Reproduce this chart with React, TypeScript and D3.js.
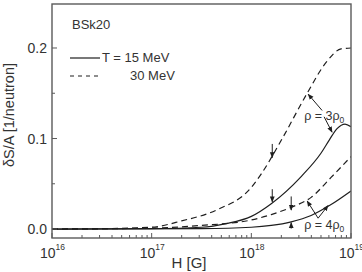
import React from "react";
import * as d3 from "d3";

// Entropy change per neutron vs. magnetic field (BSk20 functional)
// x values are log10(H / G)
const logH_15_3 = [16, 17, 17.5, 17.75, 18, 18.2, 18.5, 18.7, 18.78, 18.86, 18.94, 19];
const dS_15_3 = [0, 0.0005, 0.002, 0.006, 0.014, 0.028, 0.058, 0.084, 0.098, 0.111, 0.116, 0.113];

const logH_30_3 = [16, 16.5, 17, 17.3, 17.65, 18, 18.1, 18.3, 18.56, 18.75, 18.9, 19];
const dS_30_3 = [0, 0.0004, 0.002, 0.009, 0.021, 0.046, 0.061, 0.098, 0.15, 0.184, 0.199, 0.2];

const logH_15_4 = [16, 17.5, 18, 18.2, 18.4, 18.6, 18.8, 19];
const dS_15_4 = [0, 0.0005, 0.002, 0.004, 0.008, 0.015, 0.027, 0.042];

const logH_30_4 = [16, 17, 17.5, 18, 18.2, 18.4, 18.6, 18.8, 19];
const dS_30_4 = [0, 0.001, 0.004, 0.01, 0.016, 0.024, 0.035, 0.057, 0.08];

// vertical marker arrows (log10 H, tail value, tip value)
const markLogH = [18.21, 18.21, 18.4, 18.4];
const markFrom = [0.094, 0.044, 0.036, 0.0005];
const markTo = [0.079, 0.03, 0.021, 0.007];

// leader arrows from density labels: [tailLogH, tailVal, tipLogH, tipVal]
const leaders = [
  [18.71, 0.131, 18.57, 0.149],
  [18.73, 0.124, 18.81, 0.107],
  [18.67, 0.012, 18.56, 0.031],
  [18.67, 0.012, 18.77, 0.026],
];

const xTickExps = [16, 17, 18, 19];
const yTicks = [0.0, 0.1, 0.2];
const yMinorTicks = [0.05, 0.15];

const FONT = "'Liberation Sans', Arial, Helvetica, sans-serif";
const AXIS = "#5a5a5a";
const INK = "#1e1e1e";
const TXT = "#333";

export default function App() {
  const left = 52, right = 351, top = 4, bottom = 238;
  const x = d3.scaleLog().domain([1e16, 1e19]).range([left, right]);
  const y = d3.scaleLinear().domain([-0.0099, 0.2486]).range([bottom, top]);

  const line = d3
    .line<[number, number]>()
    .x((d) => x(Math.pow(10, d[0])))
    .y((d) => y(d[1]))
    .curve(d3.curveMonotoneX);

  const series = [
    { lx: logH_15_3, v: dS_15_3, dash: undefined },
    { lx: logH_30_3, v: dS_30_3, dash: "6,4" },
    { lx: logH_15_4, v: dS_15_4, dash: undefined },
    { lx: logH_30_4, v: dS_30_4, dash: "6,4" },
  ];

  const minorX: number[] = [];
  for (let e = 16; e < 19; e++) for (let m = 2; m <= 9; m++) minorX.push(m * Math.pow(10, e));

  const X = (l: number) => x(Math.pow(10, l));

  return (
    <svg width={362} height={272} style={{ display: "block", position: "absolute", left: 0, top: 0 }} fontFamily={FONT}>
      <defs>
        <clipPath id="plot">
          <rect x={left} y={top} width={right - left} height={bottom - top} />
        </clipPath>
        <marker id="ah" viewBox="0 0 10 10" refX="9" refY="5" markerWidth="6" markerHeight="6" orient="auto" markerUnits="userSpaceOnUse">
          <path d="M0,1 L10,5 L0,9 Z" fill={INK} />
        </marker>
      </defs>
      <rect x={0} y={0} width={362} height={272} fill="#fff" />

      {/* curves */}
      <g clipPath="url(#plot)" fill="none" stroke={INK} strokeWidth={1.2}>
        {series.map((s, i) => (
          <path key={i} d={line(s.lx.map((l, j) => [l, s.v[j]] as [number, number])) || ""} strokeDasharray={s.dash} />
        ))}
      </g>

      {/* frame */}
      <rect x={left} y={top} width={right - left} height={bottom - top} fill="none" stroke={AXIS} strokeWidth={1.4} />

      {/* ticks */}
      <g stroke={AXIS} strokeWidth={1}>
        {xTickExps.map((e) => (
          <line key={e} x1={x(Math.pow(10, e))} x2={x(Math.pow(10, e))} y1={bottom} y2={bottom - 5} />
        ))}
        {minorX.map((v, i) => (
          <line key={i} x1={x(v)} x2={x(v)} y1={bottom} y2={bottom - 3} />
        ))}
        {yTicks.map((v) => (
          <line key={v} x1={left} x2={left + 5} y1={y(v)} y2={y(v)} />
        ))}
        {yMinorTicks.map((v) => (
          <line key={v} x1={left} x2={left + 3} y1={y(v)} y2={y(v)} />
        ))}
      </g>

      {/* tick and axis labels */}
      <g fill={TXT}>
        {xTickExps.map((e) => (
          <text key={e} x={x(Math.pow(10, e)) - 12} y={258} fontSize={14}>
            10
            <tspan dy={-8} fontSize={8.5}>{e}</tspan>
          </text>
        ))}
        {yTicks.map((v) => (
          <text key={v} x={47} y={y(v) + 5} fontSize={14} textAnchor="end">
            {v.toFixed(1)}
          </text>
        ))}
        <text x={189} y={268} fontSize={15} textAnchor="middle">H [G]</text>
        <text transform={`translate(14,115) rotate(-90)`} fontSize={14.5} textAnchor="middle">
          δS/A [1/neutron]
        </text>
      </g>

      {/* legend */}
      <g fill={TXT} fontSize={13}>
        <text x={72} y={29}>BSk20</text>
        <line x1={70} x2={100} y1={58} y2={58} stroke={INK} strokeWidth={1.2} />
        <text x={102} y={62}>T = 15 MeV</text>
        <line x1={70} x2={100} y1={76} y2={76} stroke={INK} strokeWidth={1.2} strokeDasharray="4,4" />
        <text x={130} y={80}>30 MeV</text>
      </g>

      {/* marker arrows */}
      <g stroke={INK} strokeWidth={1}>
        {markLogH.map((l, i) => (
          <line key={i} x1={X(l)} x2={X(l)} y1={y(markFrom[i])} y2={y(markTo[i])} markerEnd="url(#ah)" />
        ))}
        {leaders.map((a, i) => (
          <line key={"l" + i} x1={X(a[0])} y1={y(a[1])} x2={X(a[2])} y2={y(a[3])} markerEnd="url(#ah)" />
        ))}
      </g>

      {/* density labels */}
      <g fill={TXT} fontSize={12.5}>
        <text x={X(18.53)} y={y(0.12)}>
          ρ = 3ρ<tspan dy={3} fontSize={8.5}>0</tspan>
        </text>
        <text x={X(18.53)} y={y(0.0)}>
          ρ = 4ρ<tspan dy={3} fontSize={8.5}>0</tspan>
        </text>
      </g>
    </svg>
  );
}
